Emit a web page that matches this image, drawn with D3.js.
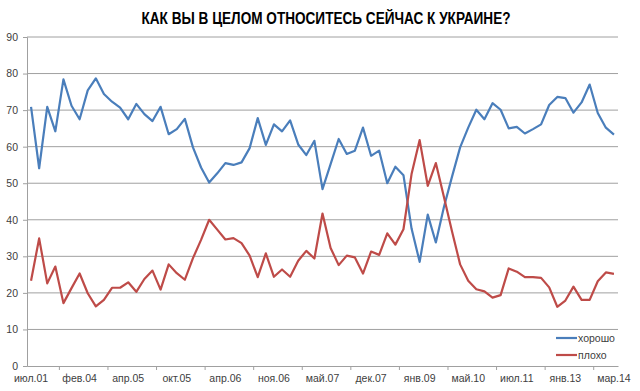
<!DOCTYPE html>
<html>
<head>
<meta charset="utf-8">
<script src="https://cdn.jsdelivr.net/npm/d3@7"></script>
<style>
  html, body { margin: 0; padding: 0; background: #fff; }
  svg { display: block; }
</style>
</head>
<body>
<svg id="chart" width="640" height="391"></svg>
<script>
const title = "КАК ВЫ В ЦЕЛОМ ОТНОСИТЕСЬ СЕЙЧАС К УКРАИНЕ?";
const tickLabels = ["июл.01","фев.04","апр.05","окт.05","апр.06","ноя.06","май.07","дек.07","янв.09","май.10","июл.11","янв.13","мар.14"];
const labelEvery = 6;
const yTicks = [0,10,20,30,40,50,60,70,80,90];
const seriesNames = ["хорошо","плохо"];
const good = [70.9,54.1,70.9,64.2,78.4,71.2,67.5,75.4,78.7,74.4,
              72.3,70.7,67.5,71.7,68.9,67.0,70.9,63.4,64.8,67.6,
              59.8,54.3,50.2,52.7,55.5,55.0,55.7,59.6,67.8,60.5,
              66.1,64.2,67.2,60.6,57.7,61.6,48.4,55.2,62.1,58.0,
              58.9,65.2,57.5,58.9,50.0,54.5,52.2,37.6,28.5,41.4,
              33.8,43.5,51.8,59.8,65.2,70.1,67.5,71.9,70.1,65.0,
              65.4,63.6,64.8,66.1,71.4,73.6,73.3,69.3,72.1,77.0,
              69.2,65.2,63.3];
const bad = [23.3,34.9,22.6,27.2,17.2,21.3,25.3,19.9,16.3,18.1,
             21.4,21.4,22.9,20.3,23.8,26.1,20.9,27.8,25.4,23.6,
             29.5,34.5,40.0,37.3,34.6,35.0,33.6,30.2,24.3,30.8,
             24.4,26.4,24.4,28.8,31.5,29.4,41.7,32.3,27.6,30.2,
             29.7,25.3,31.3,30.4,36.3,33.2,37.4,52.5,61.8,49.3,
             55.5,46.2,36.8,27.8,23.3,21.0,20.4,18.7,19.4,26.7,
             25.8,24.3,24.3,24.1,21.5,16.2,17.9,21.7,18.1,18.1,
             23.2,25.6,25.2];
const colors = ["#4A7EBB","#BE4B48"];

const svg = d3.select("#chart");
const L = 27, R = 618, T = 37, B = 366;
const idx = d3.range(good.length);
const x = d3.scaleBand().domain(idx).range([L, R]).padding(0);
const cx = i => x(i) + x.bandwidth() / 2;
const y = d3.scaleLinear().domain([0, 90]).range([B, T]);
const font = "'Liberation Sans', Arial, sans-serif";

// title
svg.append("text")
  .attr("x", 326).attr("y", 24)
  .attr("text-anchor", "middle")
  .attr("font-family", "'Liberation Sans Narrow', 'Liberation Sans', Arial, sans-serif")
  .attr("font-weight", "bold").attr("font-size", 16)
  .attr("fill", "#000")
  .attr("textLength", 369).attr("lengthAdjust", "spacingAndGlyphs")
  .text(title);

// gridlines
svg.append("g").selectAll("line")
  .data(yTicks.filter(d => d > 0))
  .join("line")
  .attr("x1", L).attr("x2", R)
  .attr("y1", d => y(d)).attr("y2", d => y(d))
  .attr("stroke", "#a0a0a0").attr("stroke-width", 1);

// y axis
const yAxis = d3.axisLeft(y).tickValues(yTicks).tickSize(4).tickPadding(5).tickFormat(d3.format("d"));
const gy = svg.append("g").attr("transform", `translate(${L},0)`).call(yAxis);
gy.select(".domain").attr("stroke", "#a0a0a0");
gy.selectAll(".tick line").attr("stroke", "#a0a0a0");
gy.selectAll("text").attr("font-family", font).attr("font-size", 10.5).attr("fill", "#404040");

// x axis
const labelIdx = idx.filter(i => i % labelEvery === 0);
const xAxis = d3.axisBottom(x).tickValues(labelIdx).tickSize(0).tickPadding(9)
  .tickFormat(i => tickLabels[i / labelEvery]);
const gx = svg.append("g").attr("transform", `translate(0,${B})`).call(xAxis);
gx.select(".domain").attr("stroke", "#a0a0a0");
gx.selectAll("text").attr("font-family", font).attr("font-size", 10.5).attr("fill", "#404040");
// tick marks at category boundaries
const tickB = d3.range(4, good.length, labelEvery);
svg.append("g").selectAll("line").data(tickB).join("line")
  .attr("x1", i => x(i)).attr("x2", i => x(i))
  .attr("y1", B).attr("y2", B + 4)
  .attr("stroke", "#a0a0a0");

// lines
const line = d3.line().x((d, i) => cx(i)).y(d => y(d));
[good, bad].forEach((s, k) => {
  svg.append("path").datum(s)
    .attr("d", line)
    .attr("fill", "none")
    .attr("stroke", colors[k])
    .attr("stroke-width", 2.2)
    .attr("stroke-linejoin", "round");
});

// legend
const lg = svg.append("g").selectAll("g").data(seriesNames).join("g")
  .attr("transform", (d, i) => `translate(556,${338 + i * 17})`);
lg.append("line").attr("x1", 0).attr("x2", 21).attr("y1", 0).attr("y2", 0)
  .attr("stroke", (d, i) => colors[i]).attr("stroke-width", 2.2);
lg.append("text").attr("x", 22).attr("y", 4)
  .attr("font-family", font).attr("font-size", 10.5).attr("fill", "#404040")
  .text(d => d);
</script>
</body>
</html>
